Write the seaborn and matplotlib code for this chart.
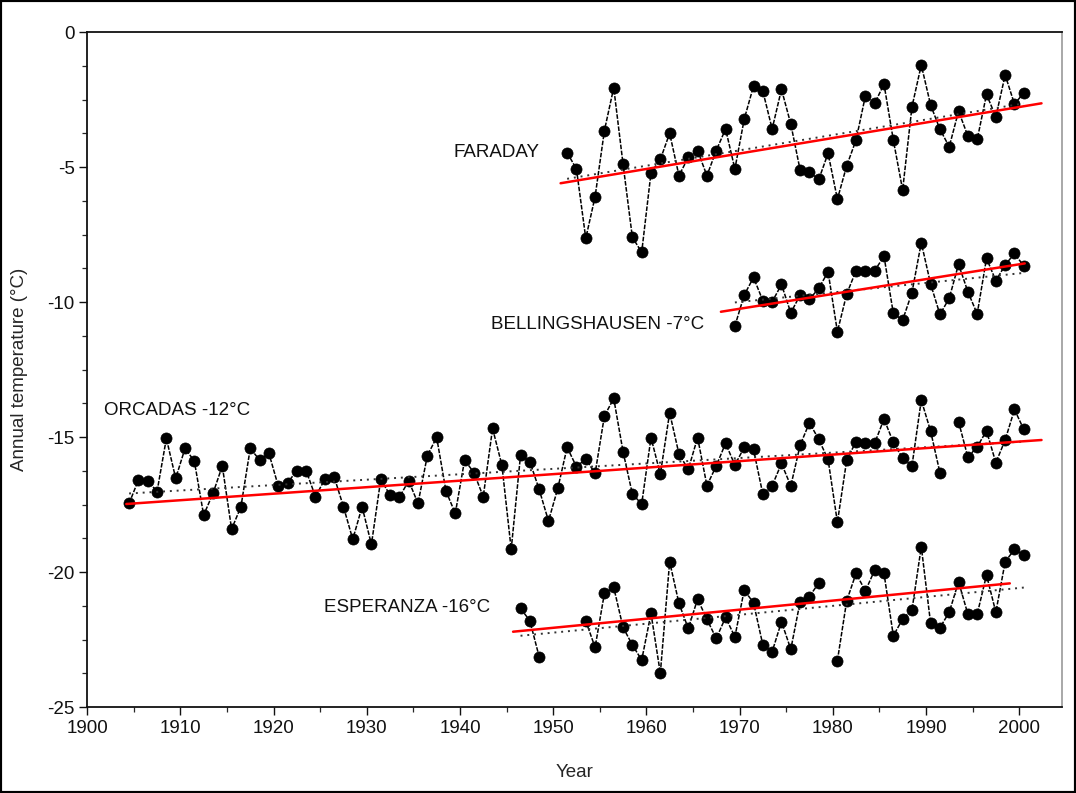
import matplotlib
matplotlib.use("Agg")
import matplotlib.pyplot as plt
from matplotlib.ticker import MultipleLocator
import seaborn as sns
import numpy as np
import pandas as pd

nan = np.nan

# Annual mean temperatures (deg C)
faraday_years = list(range(1951, 2001))
faraday_temp = [
    -4.47, -5.07, -7.64, -6.10, -3.65, -2.06, -4.89, -7.60, -8.16, -5.21,
    -4.72, -3.75, -5.32, -4.64, -4.39, -5.32, -4.39, -3.59, -5.07, -3.23,
    -2.00, -2.19, -3.59, -2.12, -3.41, -5.11, -5.17, -5.46, -4.49, -6.19,
    -4.95, -4.00, -2.37, -2.64, -1.93, -4.00, -5.85, -2.77, -1.22, -2.70,
    -3.60, -4.25, -2.93, -3.85, -3.98, -2.31, -3.14, -1.59, -2.67, -2.25,
]

bellingshausen_years = list(range(1969, 2001))
bellingshausen_temp = [
    -3.89, -2.74, -2.09, -2.95, -2.99, -2.35, -3.40, -2.74, -2.90, -2.49,
    -1.88, -4.10, -2.70, -1.84, -1.84, -1.84, -1.30, -3.42, -3.67, -2.65,
    -0.80, -2.33, -3.46, -2.86, -1.60, -2.62, -3.44, -1.38, -2.21, -1.63,
    -1.20, -1.67,
]

orcadas_years = list(range(1904, 2001))
orcadas_temp = [
    -5.46, -4.59, -4.62, -5.02, -3.05, -4.53, -3.42, -3.89, -5.89, -5.09,
    -4.07, -6.41, -5.58, -3.42, -3.85, -3.60, -4.81, -4.69, -4.25, -4.25,
    -5.21, -4.56, -4.47, -5.58, -6.79, -5.58, -6.98, -4.57, -5.15, -5.23,
    -4.62, -5.46, -3.69, -3.01, -5.00, -5.83, -3.85, -4.32, -5.21, -2.68,
    -4.04, -7.16, -3.67, -3.91, -4.94, -6.11, -4.90, -3.38, -4.10, -3.81,
    -4.35, -2.22, -1.57, -3.54, -5.11, -5.48, -3.02, -4.38, -2.10, -3.63,
    -4.20, -3.02, -4.80, -4.07, -3.23, -4.04, -3.38, -3.46, -5.12, -4.80,
    -3.98, -4.81, -3.30, -2.47, -3.09, -3.83, -6.16, -3.85, -3.17, -3.23,
    -3.23, -2.33, -3.20, -3.79, -4.07, -1.63, -2.78, -4.32, nan, -2.43,
    -3.75, -3.36, -2.77, -3.95, -3.11, -1.98, -2.72,
]

esperanza_years = list(range(1946, 2001))
esperanza_temp = [
    -5.35, -5.80, -7.14, nan, nan, nan, nan, -5.81, -6.79, -4.79,
    -4.57, -6.05, -6.70, -7.26, -5.53, -7.75, -3.62, -5.16, -6.09, -5.00,
    -5.75, -6.46, -5.68, -6.40, -4.67, -5.14, -6.70, -6.95, -5.84, -6.86,
    -5.10, -4.91, -4.40, nan, -7.28, -5.06, -4.05, -4.70, -3.93, -4.05,
    -6.36, -5.74, -5.41, -3.06, -5.90, -6.06, -5.49, -4.36, -5.56, -5.56,
    -4.11, -5.49, -3.62, -3.16, -3.37,
]

station_names = ["FARADAY", "BELLINGSHAUSEN", "ORCADAS", "ESPERANZA"]
station_offsets = [0, -7, -12, -16]

# red trend lines drawn over the series: (start, end) year and temperature
red_trend_years = [(1950.3, 2001.9), (1967.5, 2000.1), (1903.7, 2001.9), (1945.2, 1998.5)]
red_trend_temp = [(-5.60, -2.64), (-3.36, -1.57), (-5.48, -3.11), (-6.21, -4.42)]

# Build long table; annual means are plotted at mid-year
frames = []
all_years = [faraday_years, bellingshausen_years, orcadas_years, esperanza_years]
all_temp = [faraday_temp, bellingshausen_temp, orcadas_temp, esperanza_temp]
for name, yrs, temps, off in zip(station_names, all_years, all_temp, station_offsets):
    d = pd.DataFrame({"year": yrs, "temp": temps})
    d["station"] = name
    d["x"] = d["year"] + 0.5
    d["plotted"] = d["temp"] + off
    # break the line where a year is missing
    d["segment"] = name + d["temp"].isna().cumsum().astype(str)
    frames.append(d)
df = pd.concat(frames, ignore_index=True).dropna(subset=["temp"])

sns.set_theme(style="ticks")
plt.rcParams["font.family"] = ["Liberation Sans", "DejaVu Sans"]
plt.rcParams["axes.unicode_minus"] = False

fig = plt.figure(figsize=(10.76, 7.93), dpi=100)
ax = fig.add_axes([0.081, 0.1084, 0.906, 0.8512])

sns.lineplot(
    data=df, x="x", y="plotted", units="segment", estimator=None,
    color="black", marker="o", markersize=8, markeredgecolor="black",
    markeredgewidth=0.5, linewidth=1.1, linestyle=(0, (3, 1)), ax=ax,
)

# least-squares trends (dotted)
for name in station_names:
    sub = df[df["station"] == name]
    sns.regplot(data=sub, x="x", y="plotted", scatter=False, ci=None,
                color="#333333", line_kws={"linestyle": (0, (1, 2.5)), "linewidth": 1.4},
                ax=ax)

# red trend lines
for yrs, temps, off in zip(red_trend_years, red_trend_temp, station_offsets):
    sns.lineplot(x=[y + 0.5 for y in yrs], y=[t + off for t in temps],
                 color="#ff0000", linewidth=1.8, ax=ax)

# station labels
label_text = ["FARADAY", "BELLINGSHAUSEN -7°C", "ORCADAS -12°C", "ESPERANZA -16°C"]
label_pos = [(1939.3, -4.45), (1943.3, -10.85), (1901.8, -14.0), (1925.4, -21.3)]
for txt, (lx, ly) in zip(label_text, label_pos):
    ax.text(lx, ly, txt, fontsize=13.5, ha="left", va="center", color="#111111")

ax.set_xlim(1900, 2004.6)
ax.set_ylim(-25, 0)
ax.xaxis.set_major_locator(MultipleLocator(10))
ax.xaxis.set_minor_locator(MultipleLocator(5))
ax.yaxis.set_major_locator(MultipleLocator(5))
ax.yaxis.set_minor_locator(MultipleLocator(1.25))
ax.tick_params(axis="both", which="major", length=6, width=1, pad=3,
               labelsize=13.5, colors="#111111", direction="out")
ax.tick_params(axis="both", which="minor", length=3.5, width=0.9, direction="out")
ax.set_xlabel("Year", fontsize=13.5, labelpad=20)
ax.set_ylabel("Annual temperature (°C)", fontsize=13.5, labelpad=14)

for side in ["left", "bottom", "top"]:
    ax.spines[side].set_color("#111111")
    ax.spines[side].set_linewidth(1.3)
ax.spines["right"].set_color("#9a9a9a")
ax.spines["right"].set_linewidth(1.2)

# frame around the whole figure
fig.add_artist(plt.Rectangle((0, 0), 1, 1, transform=fig.transFigure,
                             fill=False, edgecolor="black", linewidth=3))

fig.savefig("out.png", dpi=100)
